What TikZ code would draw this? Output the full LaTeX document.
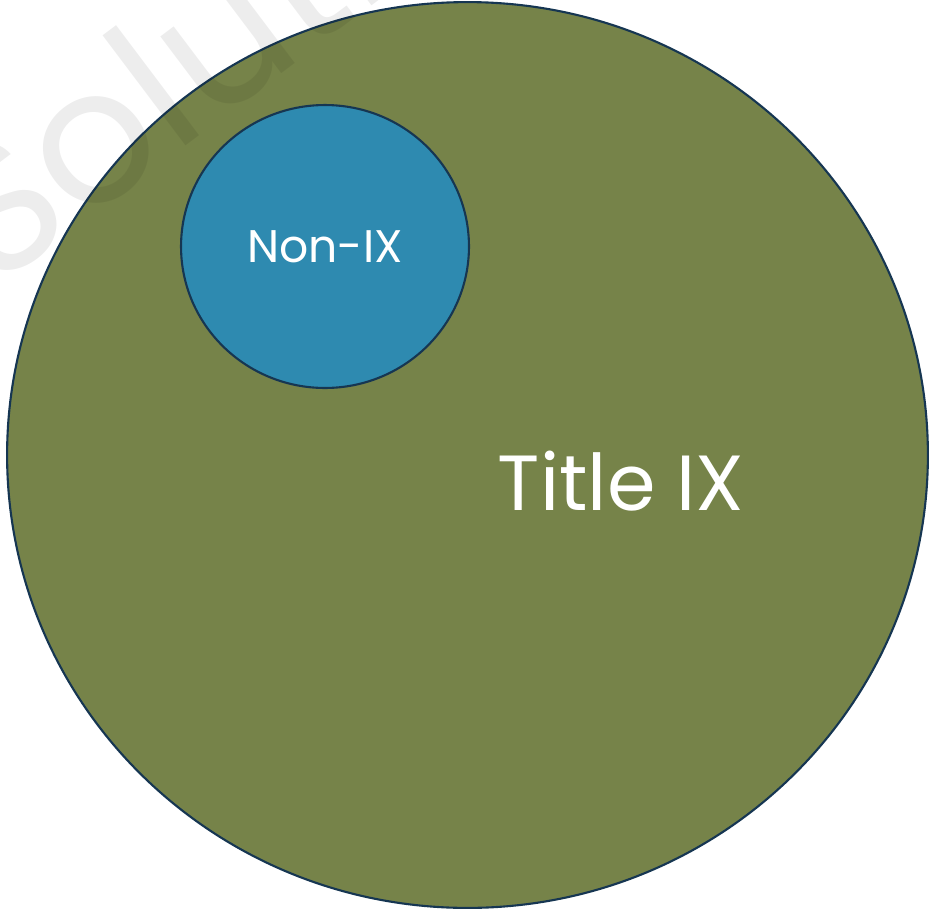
\documentclass[tikz,border=0pt]{standalone}
\usepackage{fontspec}
\setmainfont{Poppins}
\usetikzlibrary{shapes,positioning}

\definecolor{olivefill}{RGB}{118,131,73}
\definecolor{bluefill}{RGB}{46,138,176}
\definecolor{rimcolor}{RGB}{22,54,82}

\tikzset{
  bigset/.style={shape=ellipse,draw=rimcolor,line width=1.2pt,fill=olivefill,inner sep=0pt},
  smallset/.style={shape=ellipse,draw=rimcolor,line width=1.2pt,fill=bluefill,inner sep=0pt,text=white},
  setlabel/.style={text=white,inner sep=0pt}
}

\begin{document}
\begin{tikzpicture}[x=0.02cm,y=-0.02cm]
\useasboundingbox (0,0) rectangle (930,910);
\clip (0,0) rectangle (930,910);

%outer set and its label
\node [bigset,minimum width=18.42cm,minimum height=18.12cm] at (467.5,455) (title) {};
\node [setlabel,font=\fontsize{44.5}{48}\selectfont] at (621,481) (titlelabel) {Title IX};

%inner set
\node [smallset,minimum width=5.76cm,minimum height=5.66cm,font=\fontsize{26}{30}\selectfont] at (325,246.5) (nonix) {Non-IX};

%watermark over everything
\node [anchor=base west,rotate=37,text=black,opacity=0.07,inner sep=0pt,font=\fontsize{106}{110}\selectfont] at (-8,292) (mark) {Soluti};
\end{tikzpicture}
\end{document}
